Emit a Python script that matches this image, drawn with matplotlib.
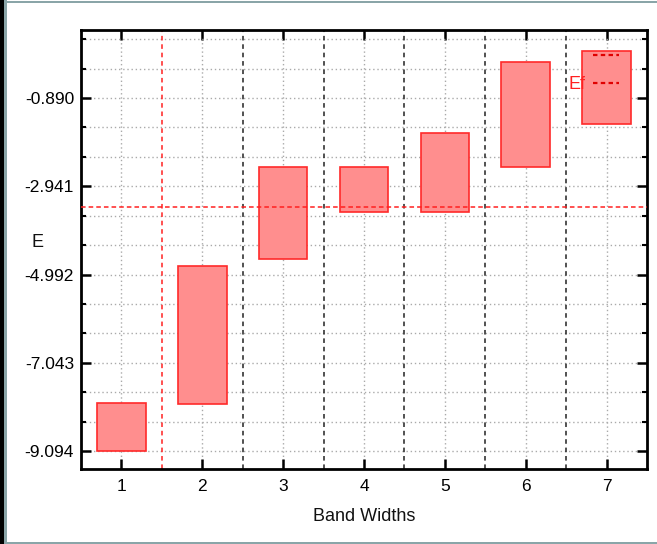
import matplotlib
matplotlib.use("Agg")
import matplotlib.pyplot as plt
from matplotlib.ticker import AutoMinorLocator, FixedLocator
from matplotlib.lines import Line2D
from matplotlib.patches import Rectangle

# ---- data ----
bands = [1, 2, 3, 4, 5, 6, 7]
band_bottom = [-9.094, -8.00, -4.64, -3.55, -3.55, -2.49, -1.50]
band_top = [-7.97, -4.79, -2.49, -2.49, -1.71, -0.06, 0.21]
fermi_level = -3.42
y_ticks = [-9.094, -7.043, -4.992, -2.941, -0.890]
x_label = "Band Widths"
y_label = "E"
legend_label = "Ef"

FONT = "Liberation Sans"
plt.rcParams['font.family'] = [FONT, 'DejaVu Sans']

fig = plt.figure(figsize=(6.57, 5.44), dpi=100)
ax = fig.add_axes([81/657, 1-469/544, (647-81)/657, (469-30)/544])

heights = [t - b for t, b in zip(band_top, band_bottom)]
ax.bar(bands, heights, bottom=band_bottom, width=0.6,
       facecolor='#ff8e8e', edgecolor='#ff2a2a', linewidth=1.2, zorder=3)

# separators between bands
seps = [b + 0.5 for b in bands[:-1]]
for i, s in enumerate(seps):
    ax.axvline(s, color='#ff2020' if i == 0 else '#222222',
               linestyle=(0, (3, 2.5)), linewidth=1.1, zorder=2)
ax.axhline(fermi_level, color='#ff2020', linestyle=(0, (3, 2)),
           linewidth=1.1, zorder=4)

ax.set_xlim(0.5, 7.5)
ax.set_ylim(-9.512, 0.690)
ax.set_xticks(bands)
ax.set_xticklabels([str(b) for b in bands])
ax.yaxis.set_major_locator(FixedLocator(y_ticks))
ax.set_yticklabels(["%.3f" % v for v in y_ticks])
ax.yaxis.set_minor_locator(AutoMinorLocator(3))

ax.grid(True, which='major', axis='x', color='#aaaaaa',
        linestyle=(0, (1, 2)), linewidth=1.0, zorder=1)
ax.grid(True, which='both', axis='y', color='#aaaaaa',
        linestyle=(0, (1, 2)), linewidth=1.0, zorder=1)

ax.tick_params(which='both', direction='in', top=True, right=True,
               labelsize=12.5, colors='black')
ax.tick_params(which='major', length=7.5, width=1.8, pad=5)
ax.tick_params(which='minor', length=3.5, width=1.5)
ax.tick_params(axis='x', pad=7)
for sp in ax.spines.values():
    sp.set_linewidth(2.0)
    sp.set_color('black')

ax.set_xlabel(x_label, fontsize=13, labelpad=10, color='#111111')
ax.set_ylabel(y_label, fontsize=13, rotation=0, color='#111111')
ax.yaxis.set_label_coords(-0.076, 0.497)

handles = [Line2D([], [], color='#e00000', linestyle=(0, (2, 1.5)), linewidth=1.6),
           Line2D([], [], color='#e00000', linestyle=(0, (2, 1.5)), linewidth=1.6)]
leg = ax.legend(handles, ['', legend_label], loc='upper right',
                bbox_to_anchor=(0.972, 0.988), frameon=False, markerfirst=False,
                fontsize=13, handlelength=1.4, handletextpad=0.45,
                labelspacing=0.62, borderpad=0.2)
leg.set_zorder(10)
for t in leg.get_texts():
    t.set_color('#ff2020')

# figure border decorations
fig.patches.append(Rectangle((0, 0), 4/657, 1, transform=fig.transFigure,
                             facecolor='black', edgecolor='none'))
fig.patches.append(Rectangle((4/657, 0), 2.5/657, 1, transform=fig.transFigure,
                             facecolor='#8aa5a8', edgecolor='none'))
fig.patches.append(Rectangle((4/657, 1-3.3/544), 1, 2/544, transform=fig.transFigure,
                             facecolor='#8aa5a8', edgecolor='none'))
fig.patches.append(Rectangle((4/657, 0), 1, 2/544, transform=fig.transFigure,
                             facecolor='#8aa5a8', edgecolor='none'))

fig.savefig("out.png", dpi=100)
